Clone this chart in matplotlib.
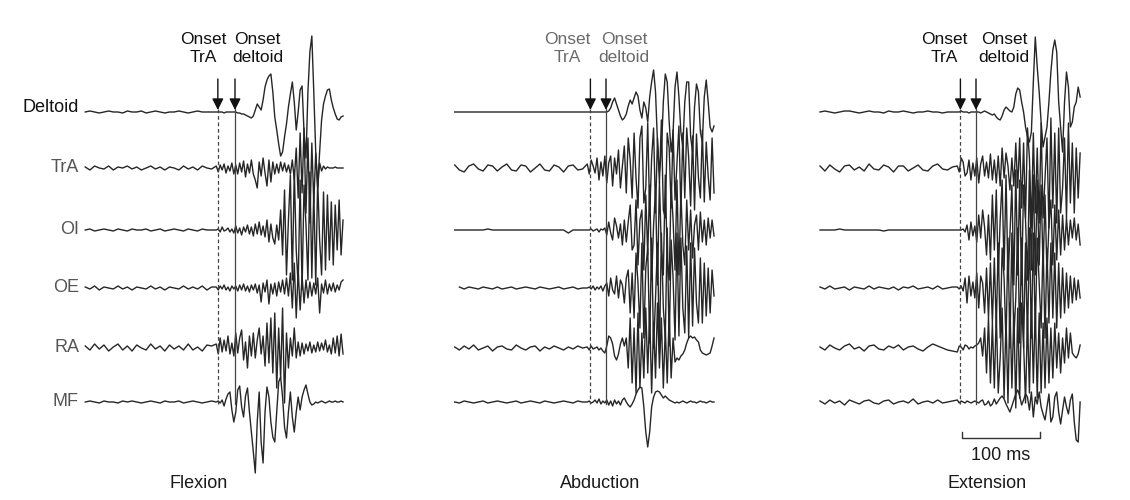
import numpy as np
import matplotlib
matplotlib.use('Agg')
import matplotlib.pyplot as plt

# EMG traces. Values are deflections (px, up = positive).
# Each trace: a coarse "quiet" part from the record start up to BURST_START,
# then a finely sampled part (BURST_STEP ms) covering the onsets and the burst.

muscles = ['Deltoid', 'TrA', 'OI', 'OE', 'RA', 'MF']
movements = ['Flexion', 'Abduction', 'Extension']

recordStart = [-192, -194, -200]      # ms, relative to deltoid onset
onsetTrA = [-22, -20, -20]            # ms
onsetDeltoid = [0, 0, 0]              # ms
BURST_START = -24                     # ms
BURST_STEP = 2.5                      # ms
scaleBar = 100                        # ms

# ---------------- Flexion ----------------
flexDeltoidQ = [0, 1, 0, -1, 0, 1, 0, 0, -1, 1, 0, 0, 1, -1, 0, 1, 0, -1, 0, 0, 1, 0, -1, 0, 1, 0, 0, 0]
flexDeltoidB = [0, 0, 0, 0, -1, 0, 0, 0, 0, 0, 0, -1, -1, -2,
				-2, -3, -4, -5, -6, -4,
				2, 8, 5, 2, 12, 25, 32, 36, 38, 20,
				-5, -18, -32, -44, -40, -25, -12, 5, 18, 30,
				10, -18, 0, 22, 26, -20, -46, 20, 60, 76,
				20, -40, -75, -40, -8, 8, 16, 22, 23, 12,
				4, -2, -7, -8, -5, -4]
flexTrAQ = [1, -2, 2, 0, -1, 2, -2, 1, 0, 2, -1, 1, -2, 0, 2, -1, 1, -2, 1, 0, -2, 2, -1, 1, -2, 2, 0, -1]
flexTrAB = [2, -4, 3, -2, 4, -5, 2, -3, 5, -6,
			3, -6, 5, -4, 7, -9, 4, -5, 8, -6,
			-12, -20, 6, -8, 10, -5, -18, 8, -14, 6,
			-6, 4, -5, 6, -3, 5, -4, 3, -6, 8,
			-12, 20, -30, 35, -25, 40, -45, 30, -55, 25,
			-35, 15, -20, 5, -3, 2, -1, 1, 0, 0,
			0, 1, 0, 0, 0, 0]
flexOIQ = [0, 1, -1, 0, 1, 0, -1, 1, 0, -1, 1, 0, 0, 1, -1, 0, 1, -1, 0, 1, 0, -1, 1, 0, -1, 1, 0, 0]
flexOIB = [0, 1, -2, 3, -1, 0, 2, -2, 1, -3,
		   4, -3, 2, -5, 3, -2, 5, -4, 3, -6,
		   6, -4, 8, -5, 4, -7, 10, -12, 6, -8,
		   -14, 5, -10, 20, -25, 40, -45, 10, 55, -50,
		   60, -20, -55, 50, -60, 45, 5, -50, 58, -48,
		   40, -55, 50, -10, -45, 38, -40, 35, -30, 28,
		   -35, 25, -20, 30, -25, 10]
flexOEQ = [1, -1, 2, -2, 1, 0, -1, 2, -1, 1, -2, 1, 0, -1, 2, -1, 1, -2, 1, 0, -1, 2, -1, 1, -1, 2, -2, 1]
flexOEB = [1, -2, 2, -1, 3, -2, 1, -3, 2, -1,
		   2, -3, 3, -2, 4, -3, 2, -4, 3, -2,
		   4, -5, 3, -14, 5, -4, 8, -16, 4, -6,
		   5, -8, 6, -4, 8, -6, 10, -8, 15, -20,
		   25, -30, 18, -22, 12, -15, 8, -10, 6, -8,
		   5, -6, 10, -25, 4, -5, 8, -6, 4, -3,
		   5, -4, 3, -2, 6, 8]
flexRAQ = [2, -2, 4, -1, 3, -3, 1, 4, -2, 2, -3, 3, 0, -2, 4, -1, 2, -3, 3, -1, 2, -2, 4, -2, 1, -3, 3, 2]
flexRAB = [4, -6, 10, -4, 8, -3, 12, -6, 5, -8,
		   15, -5, 10, 18, -12, 6, -20, 12, -8, 15,
		   -10, 8, 20, -6, 12, -18, 25, -15, 30, -25,
		   35, -40, 20, -30, 40, -55, 15, -20, 10, -8,
		   20, -10, 6, -8, 5, -6, 4, -3, 6, -5,
		   3, -4, 6, -3, 5, -2, 8, -4, 3, -6,
		   10, -5, 12, -8, 14, -6]
flexMFQ = [0, 1, 0, -1, 1, 0, 0, -1, 1, 0, 1, 0, -1, 0, 1, 0, -1, 1, 0, 0, 1, -1, 0, 1, 0, -1, 0, 1]
flexMFB = [0, 1, -1, 2, -4, 3, 8, 10, -8, -20,
		   -10, 12, 16, -5, -15, 6, 14, -10, -30, -50,
		   -71, -20, 10, -40, -61, -10, 15, 5, -20, -35,
		   -40, -10, 20, 25, 5, -25, -36, -10, 10, -15,
		   -30, -10, 5, -8, 5, 12, 17, 8, 0, -3,
		   -2, 0, -1, 0, 1, 0, -1, 0, 1, 0,
		   0, 1, 0, 0, 1, 0]

# ---------------- Abduction ----------------
abdDeltoidQ = [0] * 28
abdDeltoidB = [0, 0, 0, 0, 0, 0, 0, 0, 0, 0,
			   0, 1, 4, 10, 14, 8, 2, -4, -8, -6,
			   -2, 6, 12, 8, 14, 20, 16, 2, -6, 10,
			   4, -10, 15, 30, 42, 20, -30, -60, -40, 10,
			   38, 30, -10, -40, -20, 25, 40, 15, -20, -35,
			   10, 30, 30, -25, -40, 5, 28, 20, -20, -30,
			   15, 32, 10, -15, -20, -14]
abdTrAQ = [3, -2, -4, 2, 4, -1, -3, 3, 2, -3, 1, 4, -2, -3, 3, 2, -4, 0, 4, -2, -3, 3, 1, -4, 2, 3, -2, -1]
abdTrAB = [4, -6, 8, 2, -5, 10, -12, 6, -8, 12,
		   -15, 5, 12, -18, 10, -6, 18, -20, 2, 22,
		   -25, 30, 8, -30, 35, -10, -40, 30, 42, -35,
		   -20, 45, -48, 10, 40, -45, 30, -15, 48, -42,
		   -50, 35, 20, -40, 38, -32, 5, 42, -45, 35,
		   -30, 40, 10, -38, 32, -42, 34, -10, -30, 38,
		   -34, 26, -8, -32, 30, -25]
abdOIQ = [0, 0, 0, 0, 0, 0, 0, 1, 0, 0, 0, 0, 0, 0, 0, 0, 0, 0, 0, 0, 0, 0, 0, 0, -3, 0, 0, 0]
abdOIB = [0, 0, 1, -1, 0, 1, -2, 1, 0, 2,
		  -5, 8, -3, -10, 12, 4, -8, 6, -15, 10,
		  -12, 8, 25, -20, -15, 30, -35, 10, 20, -40,
		  35, -25, 45, -50, 5, 40, -55, 48, -20, -45,
		  55, -30, -50, 45, 10, -40, 50, -45, 38, -15,
		  -35, 30, -20, 20, -28, 5, 15, -20, 18, -12,
		  10, -15, 12, -8, 10, -6]
abdOEQ = [np.nan, 1, -1, 1, 0, -1, 1, 0, -1, 1, -1, 0, 1, -1, 0, 1, 0, -1, 1, 0, -1, 0, 1, -1, 0, 1, -1, 0]
abdOEB = [0, 1, -1, 2, -2, 1, -1, 2, -3, 2,
		  5, -8, 10, -2, -6, 12, -10, 8, 3, -15,
		  10, 18, -25, 15, -30, 35, 5, -40, 45, -50,
		  20, 40, -55, 50, -60, -10, 45, -65, 55, -20,
		  -50, 60, -58, 48, 10, -52, 55, -48, 50, -20,
		  -45, 42, -50, 45, -38, 40, -15, -35, 30, -35,
		  25, -28, 20, -25, 18, -8]
abdRAQ = [1, -2, 2, -1, 3, -2, 0, 2, -3, 1, 2, -1, -2, 3, 0, -2, 1, 2, -3, 1, -1, 2, 0, -2, 1, -1, 2, 0]
abdRAB = [1, -2, 2, -1, 0, 1, -2, 0, -3, -5,
		  2, 12, 10, 4, -8, -12, -6, 4, 10, 2,
		  10, -20, 30, -35, 20, -45, 35, -40, 15, -30,
		  40, -25, 35, -45, 25, -30, 45, -20, 30, -40,
		  20, -35, 35, -30, 10, -14, -10, -12, -8, -6,
		  -2, 5, 10, 12, 10, 11, 8, 6, -2, -5,
		  -6, -7, -6, -5, 2, 10]
abdMFQ = [0, -1, 1, 0, -1, 0, 1, -1, 0, 1, 0, -1, 0, 1, -1, 0, 1, 0, -1, 1, 0, -1, 0, 1, 0, -1, 1, 0]
abdMFB = [0, 1, -1, 0, 2, -1, 3, -2, 1, -1,
		  2, -3, 1, -4, 2, -2, 1, -3, 2, 4,
		  0, -3, -5, -2, 2, 8, 12, 15, 14, -5,
		  -30, -45, -30, -5, 5, 10, 11, 10, 7, 4,
		  6, 4, 2, 1, 0, -1, 0, -1, 0, 1,
		  0, -1, 0, 1, 0, 0, -1, 0, 1, 0,
		  0, -1, 0, 1, 0, 0]

# ---------------- Extension ----------------
extDeltoidQ = [0, 1, 0, -1, 0, 1, 1, 0, -1, 0, 1, 0, 0, -1, 1, 0, 0, 1, 0, -1, 0, 0, 1, 0, 0, -1, 0, 0]
extDeltoidB = [0, 0, 1, 0, 0, 0, -1, 0, 0, 0,
			   0, 0, -1, 0, 1, 0, -1, -2, -3, -2,
			   -5, -7, -8, -4, 2, 5, 3, 1, 0, 5,
			   18, 24, 22, 10, 0, -15, -25, -30, -20, 30,
			   75, 45, 20, -10, -35, -25, -15, 10, 40, 62,
			   72, 60, 10, -15, -40, 10, 40, 25, -15, -10,
			   5, 10, 25, 15]
extTrAQ = [2, -3, 3, -1, -4, 2, 3, -2, 1, -3, 4, -1, -2, 3, 1, -4, 2, 2, -3, 0, 3, -2, -3, 2, 4, -1, -2, 1]
extTrAB = [2, -4, 10, 6, -8, -5, 8, -12, 5, -8,
		   10, -15, 4, 12, -8, 6, -10, 14, -12, 8,
		   -15, 12, -18, 20, -10, 15, 2, -22, 10, -18,
		   25, -20, 30, -40, 25, -50, 40, 10, -60, 35,
		   -45, 20, -55, 45, -50, -10, 30, -60, 50, -40,
		   35, -55, 40, -45, -20, 30, -50, 45, -35, 25,
		   -45, 20, -30, 15]
extOIQ = [0, 0, 0, 0, 1, 0, 0, 0, 0, 0, 0, 0, 0, -1, 0, 0, 0, 0, 0, 0, 0, 0, 0, 0, 0, 0, 0, 0]
extOIB = [0, 0, 0, 1, -2, 5, -10, 8, -6, 4,
		  -12, 15, -8, 20, 3, -25, 15, -30, 35, -20,
		  40, -45, 10, 50, -40, 55, -50, -5, 45, -55,
		  60, -45, 50, -55, 45, 10, -50, 60, -40, 55,
		  -45, 50, -35, 45, -40, 35, -45, 5, 30, -35,
		  25, -30, 20, -25, 15, -20, 12, -15, 10, -8,
		  12, -10, 6, -15]
extOEQ = [1, -1, 2, -1, 0, 1, -2, 1, 0, -1, 2, -1, 1, 0, -1, 1, -2, 1, 0, 2, -1, 0, 1, -1, 2, -1, 0, 1]
extOEB = [1, -1, 2, -3, 10, -15, 12, -8, 6, -10,
		  15, -20, 12, 5, -25, 20, -30, 25, -35, 30,
		  -40, 45, -50, 40, 10, -55, 50, -60, 55, -50,
		  -10, 60, -55, 50, -60, 45, -55, 60, -50, 55,
		  -45, 50, 5, -40, 45, -50, 40, -35, 45, -30,
		  35, -40, 25, -30, 20, -25, 15, -20, 12, -15,
		  10, -12, 8, -10]
extRAQ = [1, -2, 3, 0, -2, 2, 4, -1, 1, -3, 2, 3, -1, -2, 2, 0, 3, -2, 1, 2, -1, -3, 1, 4, 2, 0, -2, -3]
extRAB = [-4, 2, 1, -2, 3, 2, -1, 1, 0, 2,
		  3, 5, 10, -8, 20, -25, 30, -35, 25, -40,
		  35, -45, -10, 40, -50, 30, -55, 45, -40, 35,
		  -60, 40, -50, 45, 5, -55, 30, -45, 50, -35,
		  40, -50, 35, -45, 25, -40, 30, -35, 20, -30,
		  25, -20, 15, -25, 10, -15, 20, -10, 15, -5,
		  -8, -10, -6, 3]
extMFQ = [1, -2, 2, -1, 1, -3, 2, 0, -2, 1, 2, -1, -2, 1, 2, -2, 0, 1, -1, 3, -2, 0, 1, -1, 2, -1, 0, 1]
extMFB = [2, -1, 1, 0, -1, 1, 0, -1, 0, 1,
		  0, -1, 1, 2, -3, -2, 1, -4, -2, 3,
		  -2, 1, 4, 6, 3, -2, -6, -10, -4, 2,
		  8, 12, 6, -3, 2, 8, 5, -8, 10, -15,
		  5, -2, 10, -5, -12, -18, -5, 8, -20, -15,
		  5, 10, -10, -22, -8, 5, -5, -12, 2, 8,
		  -20, -38, -40, 0]

traces = {
	'Flexion': [(flexDeltoidQ, flexDeltoidB), (flexTrAQ, flexTrAB), (flexOIQ, flexOIB),
				(flexOEQ, flexOEB), (flexRAQ, flexRAB), (flexMFQ, flexMFB)],
	'Abduction': [(abdDeltoidQ, abdDeltoidB), (abdTrAQ, abdTrAB), (abdOIQ, abdOIB),
				  (abdOEQ, abdOEB), (abdRAQ, abdRAB), (abdMFQ, abdMFB)],
	'Extension': [(extDeltoidQ, extDeltoidB), (extTrAQ, extTrAB), (extOIQ, extOIB),
				  (extOEQ, extOEB), (extRAQ, extRAB), (extMFQ, extMFB)],
}

# ---------------- layout ----------------
W, H = 1130, 500
PX_PER_MS = 0.78
XLIM = (-215, 150)
zeroPx = [235, 606, 976]                 # pixel column of deltoid onset in each panel
rowY = [112, 168, 230, 288, 348, 402]    # baselines, px from top
onsetLabelX = [(-40, 29), (-49, 23), (-41, 36)]
onsetColor = ['#111111', '#6a6a6a', '#111111']
movementLabelX = [-46, -8, 14]
TRACE_COLOR = '#262626'
FONT = ['Liberation Sans', 'DejaVu Sans']

plt.rcParams['font.family'] = FONT

def buildTrace(start, quiet, burst):
	tq = np.linspace(start, BURST_START, len(quiet), endpoint=False)
	tb = BURST_START + np.arange(len(burst)) * BURST_STEP
	return np.concatenate([tq, tb]), np.concatenate([np.asarray(quiet, float), np.asarray(burst, float)])

fig = plt.figure(figsize=(W / 100, H / 100), dpi=100)
fig.patch.set_facecolor('white')

for p, name in enumerate(movements):
	left = (zeroPx[p] + XLIM[0] * PX_PER_MS) / W
	width = (XLIM[1] - XLIM[0]) * PX_PER_MS / W
	ax = fig.add_axes([left, 0, width, 1])
	ax.set_xlim(*XLIM)
	ax.set_ylim(H, 0)
	ax.axis('off')

	for r, (q, b) in enumerate(traces[name]):
		t, v = buildTrace(recordStart[p], q, b)
		ax.plot(t, rowY[r] - v, color=TRACE_COLOR, lw=1.0, solid_joinstyle='round', clip_on=False)

	# onset markers
	ax.plot([onsetTrA[p]] * 2, [109, 404], color='#444444', lw=0.9, ls=(0, (3, 2.2)))
	ax.plot([onsetDeltoid[p]] * 2, [109, 404], color='#444444', lw=0.9)
	for xo in (onsetTrA[p], onsetDeltoid[p]):
		ax.annotate('', xy=(xo, 110), xytext=(xo, 79),
					arrowprops=dict(arrowstyle='-|>', color='#111111', lw=1.0,
									mutation_scale=17, shrinkA=0, shrinkB=0))
	ax.text(onsetLabelX[p][0], 48, 'Onset\nTrA', ha='center', va='center',
			fontsize=12.5, linespacing=1.25, color=onsetColor[p])
	ax.text(onsetLabelX[p][1], 48, 'Onset\ndeltoid', ha='center', va='center',
			fontsize=12.5, linespacing=1.25, color=onsetColor[p])

	ax.text(movementLabelX[p], 483, name, ha='center', va='center', fontsize=13, color='#1a1a1a')

	if p == 0:
		for r, m in enumerate(muscles):
			ax.text(-200, rowY[r] - (4 if m == 'Deltoid' else 0), m, ha='right', va='center',
					fontsize=13, color='#111111' if m == 'Deltoid' else '#555555')

	if p == 2:
		x0 = onsetTrA[p] + 2
		ax.plot([x0, x0, x0 + scaleBar, x0 + scaleBar], [432, 438, 438, 432], color='#333333', lw=1.0)
		ax.text(x0 + scaleBar / 2, 455, '%d ms' % scaleBar, ha='center', va='center',
				fontsize=13, color='#1a1a1a')

fig.savefig('out.png', dpi=100, facecolor='white')
